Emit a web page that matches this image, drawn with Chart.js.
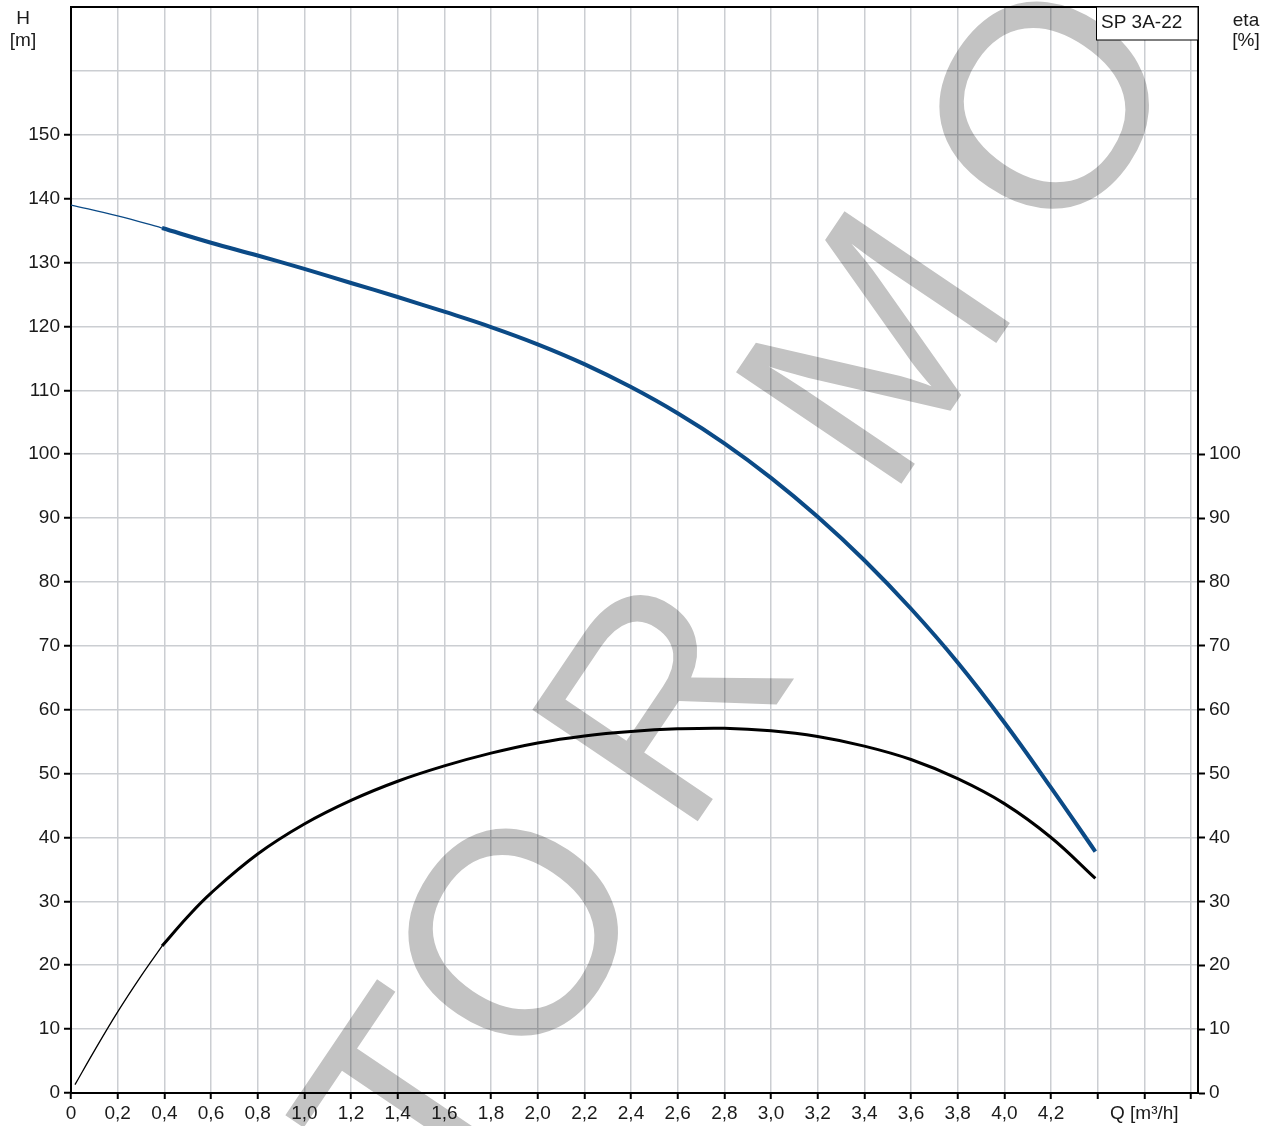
<!DOCTYPE html>
<html>
<head>
<meta charset="utf-8">
<title>SP 3A-22</title>
<script src="https://cdn.jsdelivr.net/npm/chart.js@4.4.1/dist/chart.umd.min.js"></script>
<style>
  html, body { margin: 0; padding: 0; background: #fff; }
  #wrap { width: 1274px; height: 1126px; position: relative; }
</style>
</head>
<body>
<div id="wrap"><canvas id="pumpChart"></canvas></div>
<script>
// flow Q [m3/h] and head H [m], thin part before the working range
const qHeadThin = [0, 0.2, 0.39];
const headThin = [139.0, 137.3, 135.4];

// working range of the head curve
const qHead = [0.39, 0.6, 0.8, 1.0, 1.2, 1.4, 1.6, 1.8, 2.0, 2.2, 2.4, 2.6, 2.8, 3.0, 3.2, 3.4, 3.6, 3.8, 4.0, 4.2, 4.39];
const head = [135.4, 133.1, 131.1, 129.0, 126.8, 124.6, 122.3, 119.9, 117.2, 114.1, 110.5, 106.4, 101.7, 96.3, 90.2, 83.4, 75.8, 67.4, 58.0, 47.8, 37.8];

// efficiency eta [%]
const qEtaThin = [0.017, 0.1, 0.2, 0.3, 0.39];
const etaThin = [1.3, 6.6, 12.7, 18.3, 23.0];

const qEta = [0.39, 0.5, 0.6, 0.8, 1.0, 1.2, 1.4, 1.6, 1.8, 2.0, 2.2, 2.4, 2.6, 2.8, 3.0, 3.2, 3.4, 3.6, 3.8, 4.0, 4.2, 4.39];
const eta = [23.0, 27.6, 31.3, 37.4, 42.1, 45.8, 48.8, 51.2, 53.2, 54.8, 55.9, 56.6, 57.0, 57.1, 56.7, 55.8, 54.3, 52.2, 49.2, 45.3, 40.0, 33.6];

// axis ticks
const qTicks = [0, 0.2, 0.4, 0.6, 0.8, 1.0, 1.2, 1.4, 1.6, 1.8, 2.0, 2.2, 2.4, 2.6, 2.8, 3.0, 3.2, 3.4, 3.6, 3.8, 4.0, 4.2, 4.4, 4.6, 4.8];
const qTickLabels = ['0', '0,2', '0,4', '0,6', '0,8', '1,0', '1,2', '1,4', '1,6', '1,8', '2,0', '2,2', '2,4', '2,6', '2,8', '3,0', '3,2', '3,4', '3,6', '3,8', '4,0', '4,2', '', 'Q [m³/h]', ''];
const hTicks = [0, 10, 20, 30, 40, 50, 60, 70, 80, 90, 100, 110, 120, 130, 140, 150, 160, 170];
const hTickLabels = ['0', '10', '20', '30', '40', '50', '60', '70', '80', '90', '100', '110', '120', '130', '140', '150', '', ''];
const etaTicks = [0, 10, 20, 30, 40, 50, 60, 70, 80, 90, 100];
const etaTickLabels = ['0', '10', '20', '30', '40', '50', '60', '70', '80', '90', '100'];

const BLUE = '#0b4a86';
const TEXT = '#1a1a1a';
const GRID = 'rgb(203,206,210)';

function points(xs, ys) {
    return xs.map((x, i) => ({ x: x, y: ys[i] }));
}

Chart.defaults.font.family = '"Liberation Sans", Arial, sans-serif';
Chart.defaults.font.size = 19;
Chart.defaults.color = TEXT;

// grey watermark letters, drawn between grid and curves
const watermark = {
    id: 'watermark',
    beforeDatasetsDraw(chart) {
        const ctx = chart.ctx;
        const letters = [['T', 412, 1102], ['O', 514, 932], ['R', 662, 692], ['M', 872, 345], ['O', 1045, 105]];
        ctx.save();
        ctx.globalCompositeOperation = 'multiply';
        ctx.fillStyle = '#c3c3c3';
        ctx.font = '290px "Liberation Sans", Arial, sans-serif';
        ctx.textAlign = 'left';
        ctx.textBaseline = 'alphabetic';
        letters.forEach(([ch, cx, cy]) => {
            const m = ctx.measureText(ch);
            ctx.save();
            ctx.translate(cx, cy);
            ctx.rotate(-56 * Math.PI / 180);
            const ox = (m.actualBoundingBoxLeft - m.actualBoundingBoxRight) / 2;
            const oy = (m.actualBoundingBoxAscent - m.actualBoundingBoxDescent) / 2;
            ctx.fillText(ch, ox, oy);
            ctx.restore();
        });
        ctx.restore();
    },
    afterDraw(chart) {
        const ctx = chart.ctx;
        const a = chart.chartArea;
        ctx.save();
        // top frame line
        ctx.strokeStyle = '#000';
        ctx.lineWidth = 2;
        ctx.beginPath();
        ctx.moveTo(a.left, a.top);
        ctx.lineTo(a.right, a.top);
        ctx.stroke();

        // pump name box
        ctx.fillStyle = '#fff';
        ctx.fillRect(1096, a.top, a.right - 1096, 33);
        ctx.lineWidth = 1;
        ctx.strokeRect(1096.5, a.top, a.right - 1096.5, 33);
        ctx.fillStyle = TEXT;
        ctx.font = '19px "Liberation Sans", Arial, sans-serif';
        ctx.textBaseline = 'middle';
        ctx.textAlign = 'left';
        ctx.fillText('SP 3A-22', 1101, a.top + 16);

        // axis units
        ctx.textAlign = 'center';
        ctx.fillText('H', 23, 19);
        ctx.fillText('[m]', 23, 41);
        ctx.fillText('eta', 1246, 21);
        ctx.fillText('[%]', 1246, 41);
        ctx.restore();
    }
};

function noPad(scale) {
    scale.paddingTop = 0;
    scale.paddingBottom = 0;
    scale.paddingLeft = 0;
    scale.paddingRight = 0;
}

new Chart(document.getElementById('pumpChart'), {
    type: 'line',
    data: {
        datasets: [{
            label: 'H thin',
            data: points(qHeadThin, headThin),
            borderColor: BLUE,
            borderWidth: 1.3,
            yAxisID: 'y'
        }, {
            label: 'H',
            data: points(qHead, head),
            borderColor: BLUE,
            borderWidth: 4,
            yAxisID: 'y'
        }, {
            label: 'eta thin',
            data: points(qEtaThin, etaThin),
            borderColor: '#000',
            borderWidth: 1.3,
            yAxisID: 'y2'
        }, {
            label: 'eta',
            data: points(qEta, eta),
            borderColor: '#000',
            borderWidth: 3,
            yAxisID: 'y2'
        }]
    },
    options: {
        responsive: true,
        maintainAspectRatio: false,
        animation: false,
        layout: { padding: { top: 7, left: 0, right: 0, bottom: 0 } },
        elements: {
            point: { radius: 0 },
            line: { tension: 0.4, fill: false }
        },
        plugins: {
            legend: { display: false },
            tooltip: { enabled: false }
        },
        scales: {
            x: {
                type: 'linear',
                min: 0,
                max: 4.83,
                afterBuildTicks: scale => { scale.ticks = qTicks.map(v => ({ value: v })); },
                afterFit: scale => { noPad(scale); scale.height = 33; },
                ticks: {
                    autoSkip: false,
                    maxRotation: 0,
                    padding: 3,
                    z: 1,
                    callback: (value, index) => qTickLabels[index]
                },
                grid: {
                    color: GRID,
                    lineWidth: 1.5,
                    tickLength: 6,
                    tickColor: '#000',
                    tickWidth: 2
                },
                border: { color: '#000', width: 2 }
            },
            y: {
                type: 'linear',
                position: 'left',
                min: 0,
                max: 170,
                afterBuildTicks: scale => { scale.ticks = hTicks.map(v => ({ value: v })); },
                afterFit: scale => { noPad(scale); scale.width = 71; },
                ticks: {
                    autoSkip: false,
                    padding: 4,
                    z: 1,
                    callback: (value, index) => hTickLabels[index]
                },
                grid: {
                    color: GRID,
                    lineWidth: 1.5,
                    tickLength: 7,
                    tickWidth: 2,
                    tickColor: c => (c.tick && c.tick.value > 150) ? 'rgba(0,0,0,0)' : '#000'
                },
                border: { color: '#000', width: 2 }
            },
            y2: {
                type: 'linear',
                position: 'right',
                min: 0,
                max: 170,
                afterBuildTicks: scale => { scale.ticks = etaTicks.map(v => ({ value: v })); },
                afterFit: scale => { noPad(scale); scale.width = 76; },
                ticks: {
                    autoSkip: false,
                    padding: 4,
                    z: 1,
                    callback: (value, index) => etaTickLabels[index]
                },
                grid: {
                    drawOnChartArea: false,
                    tickLength: 7,
                    tickWidth: 2,
                    tickColor: '#000'
                },
                border: { color: '#000', width: 2 }
            }
        }
    },
    plugins: [watermark]
});
</script>
</body>
</html>
